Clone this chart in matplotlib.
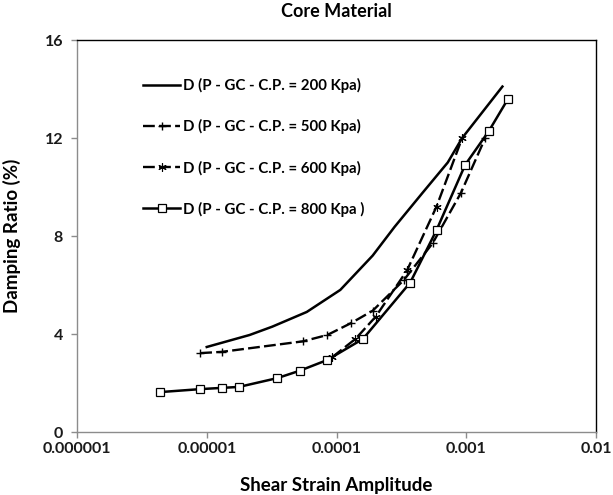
import matplotlib
matplotlib.use("Agg")
import matplotlib.pyplot as plt
from matplotlib.ticker import FixedLocator, FixedFormatter, NullLocator

plt.rcParams['font.family'] = ['Lato', 'DejaVu Sans']

title = "Core Material"
xlabel = "Shear Strain Amplitude"
ylabel = "Damping Ratio (%)"

labels = ["D (P - GC - C.P. = 200 Kpa)",
          "D (P - GC - C.P. = 500 Kpa)",
          "D (P - GC - C.P. = 600 Kpa)",
          "D (P - GC - C.P. = 800 Kpa )"]

x200 = [1.0e-5, 2.14e-5, 3.2e-5, 5.9e-5, 1.07e-4, 1.9e-4, 2.8e-4, 4.6e-4, 7.2e-4, 9.3e-4, 1.9e-3]
y200 = [3.47, 3.96, 4.3, 4.9, 5.8, 7.2, 8.37, 9.76, 11.0, 12.0, 14.1]

x500 = [8.9e-6, 1.3e-5, 5.5e-5, 8.5e-5, 1.3e-4, 1.9e-4, 3.3e-4, 5.5e-4, 9.1e-4, 1.4e-3]
y500 = [3.22, 3.27, 3.7, 3.96, 4.45, 4.95, 6.2, 7.7, 9.76, 12.0]

x600 = [9.3e-5, 1.4e-4, 2.0e-4, 3.5e-4, 5.9e-4, 9.3e-4]
y600 = [3.06, 3.8, 4.7, 6.6, 9.2, 12.0]

x800 = [4.4e-6, 8.9e-6, 1.3e-5, 1.77e-5, 3.5e-5, 5.2e-5, 8.5e-5, 1.6e-4, 3.7e-4, 5.9e-4, 9.8e-4, 1.5e-3, 2.1e-3]
y800 = [1.63, 1.75, 1.8, 1.84, 2.2, 2.5, 2.94, 3.8, 6.1, 8.24, 10.9, 12.3, 13.6]

xticks = [1e-6, 1e-5, 1e-4, 1e-3, 1e-2]
xticklabels = ["0.000001", "0.00001", "0.0001", "0.001", "0.01"]
yticks = [0, 4, 8, 12, 16]
yticklabels = ["0", "4", "8", "12", "16"]

fig = plt.figure(figsize=(6.13, 4.95), dpi=100)
ax = fig.add_axes([77/613, (495-432)/495, (596-77)/613, (432-40)/495])

ax.plot(x200, y200, color='black', lw=1.8, label=labels[0])
ax.plot(x500, y500, color='black', lw=1.7, linestyle=(0, (5, 1.8)),
        marker='+', markersize=6, markeredgewidth=1.0, label=labels[1])
ax.plot(x600, y600, color='black', lw=1.7, linestyle=(0, (5, 1.8)),
        marker=(6, 2, 0), markersize=6, markeredgewidth=0.8, label=labels[2])
ax.plot(x800, y800, color='black', lw=1.8,
        marker='s', markersize=6, markerfacecolor='white', markeredgecolor='black',
        markeredgewidth=0.9, label=labels[3])

ax.set_xscale('log')
ax.set_xlim(1e-6, 1e-2)
ax.set_ylim(0, 16)
ax.xaxis.set_major_locator(FixedLocator(xticks))
ax.xaxis.set_major_formatter(FixedFormatter(xticklabels))
ax.xaxis.set_minor_locator(NullLocator())
ax.yaxis.set_major_locator(FixedLocator(yticks))
ax.yaxis.set_major_formatter(FixedFormatter(yticklabels))

for s in ['left', 'bottom']:
    ax.spines[s].set_color('#8c8c8c')
    ax.spines[s].set_linewidth(1.0)
for s in ['top', 'right']:
    ax.spines[s].set_color('black')
    ax.spines[s].set_linewidth(1.0)

ax.tick_params(axis='both', which='major', direction='out', length=4, width=1,
               color='#8c8c8c', labelsize=11.5)
ax.tick_params(axis='x', pad=3.5)
ax.tick_params(axis='y', pad=6)
for t in ax.get_xticklabels() + ax.get_yticklabels():
    t.set_fontweight('bold')
    t.set_color('#1a1a1a')

ax.set_title(title, fontsize=13, fontweight='bold', pad=16.5)
ax.set_xlabel(xlabel, fontsize=13.5, fontweight='bold', labelpad=14.5)
ax.set_ylabel(ylabel, fontsize=13.5, fontweight='bold', labelpad=17)

leg = ax.legend(loc='upper left', bbox_to_anchor=(0.127, 0.902), frameon=False,
                borderpad=0, borderaxespad=0, handlelength=2.5, handletextpad=0.15,
                labelspacing=1.73, prop={'weight': 'bold', 'size': 10.8})

fig.savefig('out.png', dpi=100)
